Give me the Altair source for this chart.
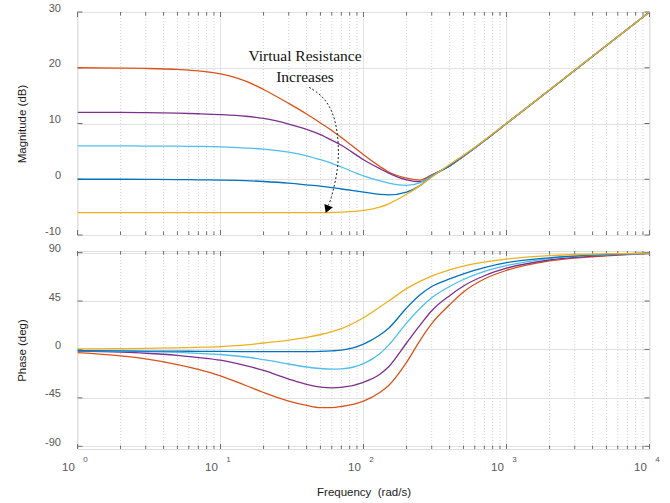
import altair as alt
import pandas as pd

# ---------------- data ----------------
freq = [1, 2, 3, 5, 7, 10, 15, 20, 30, 40, 50, 60, 70, 100, 130, 150, 200, 250,
        300, 400, 500, 700, 1000, 2000, 5000, 10000]

series_names = ["20 dB", "12 dB", "6 dB", "0 dB", "-6 dB"]
series_colors = ["#D95319", "#7E2F8E", "#4DBEEE", "#0072BD", "#EDB120"]

mag_orange = [20.0, 19.95, 19.88, 19.7, 19.45, 18.9, 17.6, 16.1, 13.6, 11.7, 10.1, 8.75, 7.5,
              4.4, 2.3, 1.3, 0.2, -0.15, 0.8, 2.35, 4.1, 6.9, 10.0, 16.0, 24.0, 30.0]
mag_purple = [12.0, 12.0, 11.95, 11.85, 11.75, 11.6, 11.3, 10.9, 9.9, 8.95, 8.0, 7.0, 6.1,
              3.5, 1.9, 1.1, -0.1, -0.45, 0.7, 2.4, 4.1, 6.9, 10.0, 16.0, 24.0, 30.0]
mag_lightblue = [6.0, 6.0, 5.95, 5.95, 5.9, 5.8, 5.6, 5.4, 4.85, 4.2, 3.5, 2.85, 2.2,
                 0.6, -0.3, -0.7, -1.1, -0.6, 0.6, 2.45, 4.15, 6.9, 10.0, 16.0, 24.0, 30.0]
mag_blue = [0.0, 0.0, -0.02, -0.05, -0.1, -0.15, -0.25, -0.4, -0.7, -1.0, -1.25, -1.5, -1.75,
            -2.3, -2.7, -2.8, -2.3, -1.1, 0.45, 2.45, 4.2, 6.95, 10.05, 16.0, 24.0, 30.0]
mag_yellow = [-6.0, -6.0, -6.0, -6.0, -6.0, -6.0, -6.0, -6.0, -6.0, -6.0, -6.0, -5.95, -5.9,
              -5.6, -5.0, -4.4, -2.7, -1.1, 0.4, 2.65, 4.3, 7.0, 10.05, 16.05, 24.0, 30.0]

ph_orange = [-3, -6, -8.7, -14, -18.5, -24.5, -33.5, -40, -48, -52, -54, -54, -53,
             -48, -40, -33.5, -12, 9, 24, 41.5, 53.5, 65.5, 73.5, 82.3, 87, 89]
ph_purple = [-1.5, -2.5, -3.5, -5.5, -7.5, -10, -15, -19.5, -27.5, -32.5, -35, -35.7, -35.3,
             -30.5, -23, -16, 6, 23, 36, 50, 59, 68.5, 75.5, 83.2, 87.5, 89.3]
ph_lightblue = [-1, -1.5, -2, -2.8, -3.6, -4.7, -7, -9.5, -13.5, -16.3, -17.7, -18.2, -18,
                -13.2, -4, 4, 24.5, 38.5, 48, 58.5, 65, 72.5, 78, 84.5, 88, 89.4]
ph_blue = [-1, -1.3, -1.5, -1.6, -1.7, -1.8, -2, -2, -2, -2, -1.8, -1.3, -0.6,
           5, 13.5, 19.8, 38.5, 51, 58.5, 65.5, 70.3, 76, 80.6, 85.2, 88.3, 89.5]
ph_yellow = [0.5, 0.8, 1.1, 1.5, 2, 2.7, 4.2, 6, 8.6, 11.2, 13.9, 16.6, 19.4,
             29.5, 39.5, 45, 56.5, 63.5, 68.2, 74, 77.5, 81.2, 84, 87.2, 88.9, 89.5]

mag_all = [mag_orange, mag_purple, mag_lightblue, mag_blue, mag_yellow]
ph_all = [ph_orange, ph_purple, ph_lightblue, ph_blue, ph_yellow]

decades = [1, 10, 100, 1000, 10000]
decade_exp = ["0", "1", "2", "3", "4"]
minor_lines = [m * d for d in decades[:-1] for m in range(2, 10)]

mag_ticks = [-10, 0, 10, 20, 30]
ph_ticks = [-90, -45, 0, 45, 90]

# annotation
ann_text = ["Virtual Resistance", "Increases"]
ann_freq = [39.0, 39.0]
ann_db = [21.25, 17.4]
arrow_freq = [41.7, 51.7, 60.7, 65.8, 67.6, 64.0, 59.0, 56.9]
arrow_db = [16.5, 15.0, 12.3, 8.75, 4.0, -0.2, -3.75, -4.6]
head_freq = [55.7]
head_db = [-5.4]

# ---------------- build ----------------
rows = []
for k, (name, mags, phs) in enumerate(zip(series_names, mag_all, ph_all)):
    for f, m, p in zip(freq, mags, phs):
        rows.append({"series": name, "k": k, "freq": f, "mag": m, "phase": p})
df = pd.DataFrame(rows)

W = 572
H1 = 223
H2 = 198
FONT = "Liberation Sans"
LABEL_COLOR = "#595959"
TICK_COLOR = "#6e6e6e"

xscale = alt.Scale(type="log", domain=[1, 10000], nice=False)


def yaxis(title, values):
    return alt.Axis(values=values, grid=True, gridColor="#e1e1e1", gridWidth=1,
                    domain=False, ticks=False, labelFont=FONT, labelFontSize=11,
                    labelColor=LABEL_COLOR, labelPadding=17, labelOffset=-4,
                    labelExpr="'' + datum.value",
                    title=title, titleFont=FONT, titleFontSize=11.5,
                    titleFontWeight="normal", titleColor="#1a1a1a", titlePadding=17)


def panel(field, ydomain, yvals, ytitle, H, xaxis, extra=None):
    yscale = alt.Scale(domain=ydomain, nice=False, zero=False)
    ya = yaxis(ytitle, yvals)
    layers = []
    minor_df = pd.DataFrame({"f": minor_lines})
    major_df = pd.DataFrame({"f": decades})
    yt_df = pd.DataFrame({"v": yvals})
    layers.append(alt.Chart(minor_df).mark_rule(color="#d4d4d4", strokeDash=[1, 2], strokeWidth=1)
                  .encode(x=alt.X("f:Q", scale=xscale, axis=xaxis), y=alt.value(0), y2=alt.value(H)))
    layers.append(alt.Chart(major_df).mark_rule(color="#e1e1e1", strokeWidth=1)
                  .encode(x=alt.X("f:Q", scale=xscale, axis=xaxis), y=alt.value(0), y2=alt.value(H)))
    # inward ticks
    for (a, b), src in [((0, 3.5), minor_df), ((H - 3.5, H), minor_df),
                        ((0, 5), major_df), ((H - 5, H), major_df)]:
        layers.append(alt.Chart(src).mark_rule(color=TICK_COLOR, strokeWidth=1)
                      .encode(x=alt.X("f:Q", scale=xscale, axis=xaxis), y=alt.value(a), y2=alt.value(b)))
    for a, b in [(0, 5), (W - 5, W)]:
        layers.append(alt.Chart(yt_df).mark_rule(color=TICK_COLOR, strokeWidth=1)
                      .encode(y=alt.Y("v:Q", scale=yscale, axis=ya), x=alt.value(a), x2=alt.value(b)))
    for k, c in enumerate(series_colors):
        layers.append(alt.Chart(df).transform_filter(alt.datum.k == k)
                      .mark_line(color=c, strokeWidth=1.3, interpolate="monotone", clip=True)
                      .encode(x=alt.X("freq:Q", scale=xscale, axis=xaxis),
                              y=alt.Y(f"{field}:Q", scale=yscale, axis=ya)))
    if extra:
        layers.extend(extra(yscale, ya))
    return alt.layer(*layers).properties(width=W, height=H)


def mag_extra(yscale, ya):
    t = alt.Chart(pd.DataFrame({"t": ann_text, "f": ann_freq, "v": ann_db})).mark_text(
        font="Liberation Serif", fontSize=15.5, align="center", baseline="alphabetic", color="#111"
    ).encode(x=alt.X("f:Q", scale=xscale, axis=None), y=alt.Y("v:Q", scale=yscale, axis=ya), text="t:N")
    arr = alt.Chart(pd.DataFrame({"f": arrow_freq, "v": arrow_db, "i": list(range(len(arrow_freq)))})).mark_line(
        color="#222", strokeWidth=1, strokeDash=[2, 2], interpolate="basis"
    ).encode(x=alt.X("f:Q", scale=xscale, axis=None), y=alt.Y("v:Q", scale=yscale, axis=ya), order="i:Q")
    head = alt.Chart(pd.DataFrame({"f": head_freq, "v": head_db})).mark_point(
        shape="triangle-down", filled=True, size=85, angle=21, color="#000", opacity=1
    ).encode(x=alt.X("f:Q", scale=xscale, axis=None), y=alt.Y("v:Q", scale=yscale, axis=ya))
    return [arr, head, t]


bottom_xaxis = alt.Axis(labels=False, ticks=False, domain=False, grid=False,
                        title="Frequency\u00a0 (rad/s)", titleFont=FONT, titleFontSize=11.5,
                        titleFontWeight="normal", titleColor="#1a1a1a", titlePadding=37)


def ph_extra(yscale, ya):
    lab = pd.DataFrame({"f": decades, "e": decade_exp})
    base = alt.Chart(lab).mark_text(text="10", font=FONT, fontSize=11.5, color=LABEL_COLOR,
                                    align="center", baseline="middle", dx=-9).encode(
        x=alt.X("f:Q", scale=xscale, axis=bottom_xaxis), y=alt.value(H2 + 18.5))
    ex = alt.Chart(lab).mark_text(font=FONT, fontSize=8, color=LABEL_COLOR,
                                  align="center", baseline="middle", dx=8).encode(
        x=alt.X("f:Q", scale=xscale, axis=bottom_xaxis), y=alt.value(H2 + 11), text="e:N")
    return [base, ex]


top = panel("mag", [-10, 30], mag_ticks, "Magnitude (dB)", H1, None, mag_extra)
bottom = panel("phase", [-92.5, 91.5], ph_ticks, "Phase (deg)", H2, bottom_xaxis, ph_extra)

chart = alt.vconcat(top, bottom, spacing=5).properties(
    padding={"left": 15.5, "top": 1, "right": 5, "bottom": 2}
).configure_view(stroke="#7a7a7a", strokeWidth=1).configure(background="white")

chart.save("out.html", embed_options={"renderer": "svg", "actions": False})
